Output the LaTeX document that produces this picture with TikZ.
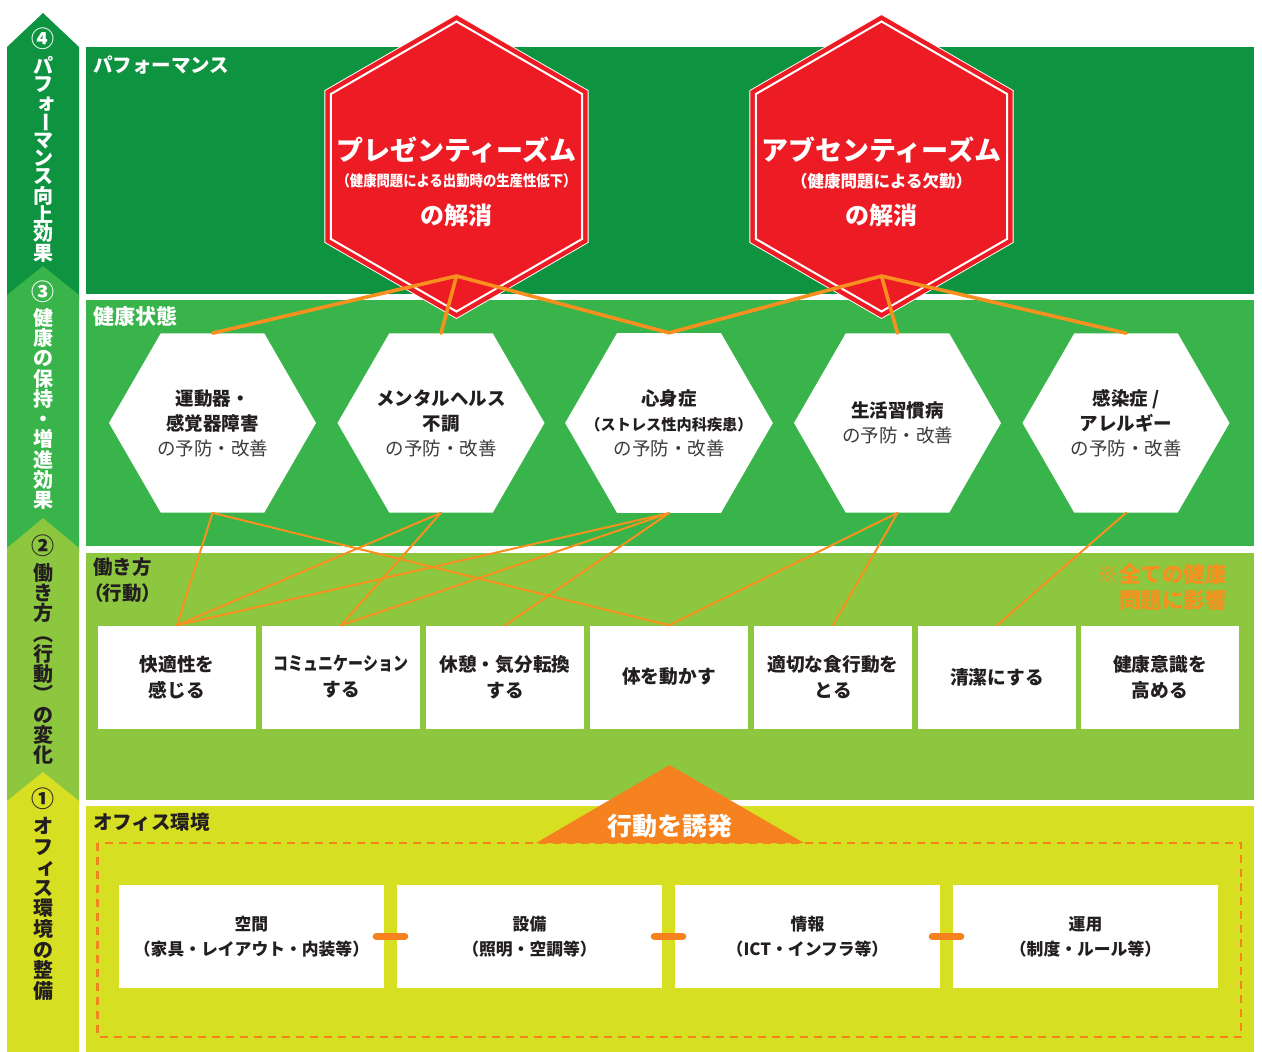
\documentclass[tikz,border=0pt]{standalone}
\usepackage{fontspec}
\setmainfont{Noto Sans CJK JP}
\usetikzlibrary{shapes.geometric,calc}
\definecolor{gA}{HTML}{0E9340}
\definecolor{gB}{HTML}{39B44A}
\definecolor{gC}{HTML}{8DC63F}
\definecolor{gD}{HTML}{D7DF23}
\definecolor{redA}{HTML}{ED1C24}
\definecolor{orA}{HTML}{F7901E}
\definecolor{orB}{HTML}{F5821F}
\definecolor{txt}{HTML}{231F20}
\definecolor{txtgray}{HTML}{3C3C3C}
\newcommand{\vbar}{\rotatebox[origin=c]{-90}{ー}}
\newcommand{\vsmall}[1]{\hspace*{6pt}#1}
\newcommand{\cnum}[1]{\scalebox{1.15}{#1}}
\begin{document}
\begin{tikzpicture}[x=1pt,y=-1pt,
  lbl/.style={anchor=west,inner sep=0,font=\bfseries\fontsize{19.5}{26}\selectfont,align=left},
  coltext/.style={anchor=north,inner sep=0,align=center,font=\bfseries\fontsize{20}{#1}\selectfont},
  hhex/.style={regular polygon,regular polygon sides=6,minimum size=207pt,fill=white,inner sep=-20pt,align=center,text=txt,font=\fontsize{18.5}{25}\selectfont},
  rhex/.style={regular polygon,regular polygon sides=6,shape border rotate=30,minimum size=#1,inner sep=0},
  bbox/.style={rectangle,fill=white,minimum width=158pt,minimum height=103pt,inner sep=0,align=center,text=txt,font=\bfseries\fontsize{18.7}{26}\selectfont},
  obox/.style={rectangle,fill=white,minimum width=265pt,minimum height=103pt,inner sep=0,align=center,text=txt,font=\bfseries\fontsize{16.8}{25}\selectfont},
  rtext/.style={text=white,inner sep=0},
  upl/.style={draw=orA,line width=3.6pt,line cap=round},
  lowl/.style={draw=orA,line width=2pt,line cap=round},
  linkbar/.style={draw=orB,line width=7pt,line cap=round,shorten <=-8pt,shorten >=-8pt},
]
\fill[white] (0,0) rectangle (1262,1052);
\useasboundingbox (0,0) rectangle (1262,1052);
% left column arrows
\fill[gA] (7,47) -- (43,13) -- (79,47) -- (79,300) -- (7,300) -- cycle;
\fill[gB] (7,295) -- (43,266) -- (79,295) -- (79,552) -- (7,552) -- cycle;
\fill[gC] (7,548) -- (43,518) -- (79,548) -- (79,805) -- (7,805) -- cycle;
\fill[gD] (7,801) -- (43,772) -- (79,801) -- (79,1052) -- (7,1052) -- cycle;
% panels
\fill[gA] (86,47) rectangle (1254,294);
\fill[gB] (86,300) rectangle (1254,546);
\fill[gC] (86,553) rectangle (1254,800);
\fill[gD] (86,806) rectangle (1254,1052);
% column texts
\node[coltext=18.0,text=white] (c4) at (43,28) {\cnum{④}\\[5pt]パ\\フ\\\vsmall{ォ}\\\vbar\\マ\\ン\\ス\\向\\上\\効\\果};
\node[coltext=20.3,text=white] (c3) at (43,281) {\cnum{③}\\[4pt]健\\康\\の\\保\\持\\・\\増\\進\\効\\果};
\node[coltext=20.3,text=txt] (c2) at (43,535) {\cnum{②}\\[5pt]働\\き\\方\\︵\\行\\動\\︶\\の\\変\\化};
\node[coltext=20.6,text=txt] (c1) at (43,788) {\cnum{①}\\[5pt]オ\\フ\\\vsmall{ィ}\\ス\\環\\境\\の\\整\\備};
% panel labels
\node[lbl,text=white] (l4) at (93,65) {パフォーマンス};
\node[lbl,text=white,font=\bfseries\fontsize{21}{26}\selectfont] (l3) at (93,316) {健康状態};
\node[lbl,text=txt,anchor=north west] (l2) at (93,558) {働き方\\{\addfontfeatures{RawFeature=+palt}（行動）}};
\node[lbl,text=txt] (l1) at (93,822) {オフィス環境};
% red hexagons
\node[rhex=304pt,fill=redA,draw=white,line width=0.8pt] (pres) at (456.5,166.5) {};
\node[rhex=290pt,draw=white,line width=2pt] (presin) at (pres.center) {};
\node[rhex=304pt,fill=redA,draw=white,line width=0.8pt] (abs) at (881.5,166.5) {};
\node[rhex=290pt,draw=white,line width=2pt] (absin) at (abs.center) {};
\node[rtext,font=\bfseries\fontsize{27}{30}\selectfont] (p1) at (456.5,150) {プレゼンティーズム};
\node[rtext,font=\bfseries\fontsize{15}{18}\selectfont] (p2) at (456.5,181) {\scalebox{0.89}[1]{（健康問題による出勤時の生産性低下）}};
\node[rtext,font=\bfseries\fontsize{24}{26}\selectfont] (p3) at (456.5,215) {の解消};
\node[rtext,font=\bfseries\fontsize{27}{30}\selectfont] (a1) at (881.5,150) {アブセンティーズム};
\node[rtext,font=\bfseries\fontsize{16.5}{18}\selectfont] (a2) at (881.5,181) {（健康問題による欠勤）};
\node[rtext,font=\bfseries\fontsize{24}{26}\selectfont] (a3) at (881.5,215) {の解消};
% health hexagons
\node[hhex] (h1) at (212.5,423) {\textbf{運動器・}\\\textbf{感覚器障害}\\{\color{txtgray}の予防・改善}};
\node[hhex] (h2) at (441,423) {\textbf{メンタルヘルス}\\\textbf{不調}\\{\color{txtgray}の予防・改善}};
\node[hhex] (h3) at (669,423) {\textbf{心身症}\\{\bfseries\fontsize{15.2}{25}\selectfont （ストレス性内科疾患）}\\{\color{txtgray}の予防・改善}};
\node[hhex] (h4) at (897.5,423) {\textbf{生活習慣病}\\{\color{txtgray}の予防・改善}};
\node[hhex] (h5) at (1126,423) {\textbf{感染症 /}\\\textbf{アレルギー}\\{\color{txtgray}の予防・改善}};
% behaviour boxes
\node[bbox] (b1) at (177,677) {快適性を\\感じる};
\node[bbox] (b2) at (341,677) {\scalebox{0.8}[1]{コミュニケーション}\\する};
\node[bbox] (b3) at (505,677) {休憩・気分転換\\する};
\node[bbox] (b4) at (669,677) {体を動かす};
\node[bbox] (b5) at (833,677) {適切な食行動を\\とる};
\node[bbox] (b6) at (997,677) {清潔にする};
\node[bbox] (b7) at (1160,677) {健康意識を\\高める};
\node[anchor=north east,inner sep=0,align=right,text=orA,font=\bfseries\fontsize{21.5}{26}\selectfont] (note) at (1227,564) {※全ての健康\\問題に影響};
% office
\draw[orB,line width=2.5pt,dash pattern=on 8pt off 6pt] (97.5,843) rectangle (1241,1037);
\fill[orB] (536,843) -- (669.5,765) -- (804,843) -- cycle;
\node[rtext,font=\bfseries\fontsize{25}{28}\selectfont] (trig) at (669.5,826) {行動を誘発};
\node[obox] (o1) at (251.5,936.5) {空間\\（家具・レイアウト・内装等）};
\node[obox] (o2) at (529.5,936.5) {設備\\（照明・空調等）};
\node[obox] (o3) at (807.5,936.5) {情報\\（ICT・インフラ等）};
\node[obox] (o4) at (1085.5,936.5) {運用\\（制度・ルール等）};
\draw[linkbar] (o1.east) -- (o2.west);
\draw[linkbar] (o2.east) -- (o3.west);
\draw[linkbar] (o3.east) -- (o4.west);
% connectors
\coordinate (pa) at (456.5,276);
\coordinate (aa) at (881.5,276);
\draw[upl] (pa) -- (h1.north);
\draw[upl] (pa) -- (h2.north);
\draw[upl] (pa) -- (h3.north);
\draw[upl] (aa) -- (h3.north);
\draw[upl] (aa) -- (h4.north);
\draw[upl] (aa) -- (h5.north);
\draw[lowl] (h1.south) -- (b1.north);
\draw[lowl] (h1.south) -- (b4.north);
\draw[lowl] (h2.south) -- (b1.north);
\draw[lowl] (h2.south) -- (b2.north);
\draw[lowl] (h3.south) -- (b1.north);
\draw[lowl] (h3.south) -- (b2.north);
\draw[lowl] (h3.south) -- (b3.north);
\draw[lowl] (h4.south) -- (b4.north);
\draw[lowl] (h4.south) -- (b5.north);
\draw[lowl] (h5.south) -- (b6.north);
\end{tikzpicture}
\end{document}
